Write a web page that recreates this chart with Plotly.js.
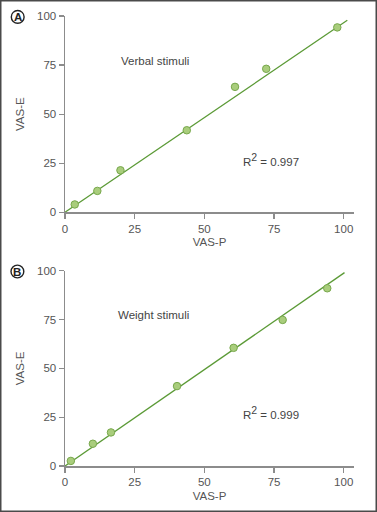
<!DOCTYPE html>
<html><head><meta charset="utf-8">
<script src="https://cdn.plot.ly/plotly-3.0.1.min.js"></script>
<style>html,body{margin:0;padding:0;background:#fff}#plot{width:377px;height:512px}</style>
</head><body><div id="plot"></div>
<script>
// Panel A: Verbal stimuli
const verbalP = [3.5, 11.6, 19.9, 43.7, 61.0, 72.2, 97.7];
const verbalE = [4.0, 10.9, 21.4, 41.8, 63.9, 73.1, 94.2];
const verbalFitX = [0, 101.3];
const verbalFitY = [0, 97.8];
// Panel B: Weight stimuli
const weightP = [2.1, 10.0, 16.5, 40.2, 60.5, 78.1, 94.1];
const weightE = [2.6, 11.4, 17.2, 40.9, 60.5, 74.8, 91.0];
const weightFitX = [0, 100.3];
const weightFitY = [0, 99.0];
const tickVals = [0, 25, 50, 75, 100];
const tickText = ['0', '25', '50', '75', '100'];

const lineCol = '#5b9a36';
const mk = {size: 7.5, color: '#a9cd7c', line: {color: '#78a84c', width: 1}};

const traces = [
  {x: verbalFitX, y: verbalFitY, mode: 'lines', line: {color: lineCol, width: 1.3}, xaxis: 'x', yaxis: 'y', hoverinfo: 'skip'},
  {x: verbalP, y: verbalE, mode: 'markers', marker: mk, xaxis: 'x', yaxis: 'y', cliponaxis: false},
  {x: weightFitX, y: weightFitY, mode: 'lines', line: {color: lineCol, width: 1.3}, xaxis: 'x2', yaxis: 'y2', hoverinfo: 'skip'},
  {x: weightP, y: weightE, mode: 'markers', marker: mk, xaxis: 'x2', yaxis: 'y2', cliponaxis: false}
];

const L = 65, R = 23, T = 16, B = 46, W = 377, H = 512;
const pw = W - L - R, ph = H - T - B;
const px = v => (v - L) / pw;
const py = v => (H - B - v) / ph;

const FAM = 'Liberation Sans, Arial, sans-serif';
const tf = {family: FAM, size: 11.5, color: '#555'};
const axBase = {
  showline: true, linecolor: '#8c8c8c', linewidth: 1.5, ticks: 'outside', ticklen: 5,
  tickcolor: '#8c8c8c', tickwidth: 1.2, showgrid: false, zeroline: false,
  tickvals: tickVals, ticktext: tickText, tickfont: tf, fixedrange: true
};
function xa(anchor) {
  return Object.assign({}, axBase, {range: [0, 103.7], anchor: anchor, domain: [0, 1],
    title: {text: 'VAS-P', font: tf, standoff: 4}});
}
function ya(anchor, dom) {
  return Object.assign({}, axBase, {range: [0, 100], anchor: anchor, domain: dom,
    title: {text: 'VAS-E', font: tf, standoff: 10}});
}

const annFont = {family: FAM, size: 11.5, color: '#444'};
const r2 = v => 'R<sup><span style="font-size:10.5px">2</span></sup> = ' + v;
const layout = {
  width: W, height: H, showlegend: false,
  margin: {l: L, r: R, t: T, b: B},
  paper_bgcolor: '#fff', plot_bgcolor: '#fff',
  xaxis: xa('y'), yaxis: ya('x', [py(212.3), 1]),
  xaxis2: xa('y2'), yaxis2: ya('x2', [0, py(270.7)]),
  annotations: [
    {text: 'Verbal stimuli', x: 19.2, y: 77.2, xref: 'x', yref: 'y', xanchor: 'left', yanchor: 'middle', showarrow: false, font: annFont},
    {text: r2('0.997'), x: 63, y: 27, xref: 'x', yref: 'y', xanchor: 'left', yanchor: 'middle', showarrow: false, font: annFont},
    {text: 'Weight stimuli', x: 18.4, y: 77.5, xref: 'x2', yref: 'y2', xanchor: 'left', yanchor: 'middle', showarrow: false, font: annFont},
    {text: r2('0.999'), x: 63, y: 27.4, xref: 'x2', yref: 'y2', xanchor: 'left', yanchor: 'middle', showarrow: false, font: annFont},
    {text: '<b>A</b>', x: px(17.7), y: py(16.9), xref: 'paper', yref: 'paper', xanchor: 'center', yanchor: 'middle', showarrow: false, font: {family: FAM, size: 11.5, color: '#222'}},
    {text: '<b>B</b>', x: px(17.4), y: py(271.5), xref: 'paper', yref: 'paper', xanchor: 'center', yanchor: 'middle', showarrow: false, font: {family: FAM, size: 11.5, color: '#222'}}
  ],
  shapes: [
    {type: 'rect', xref: 'paper', yref: 'paper', x0: px(0.75), x1: px(376.25), y0: py(511.25), y1: py(0.75), line: {color: '#4a4a4a', width: 1.5}},
    {type: 'circle', xref: 'paper', yref: 'paper', x0: px(11.3), x1: px(24.1), y0: py(23.3), y1: py(10.5), line: {color: '#222', width: 1.4}},
    {type: 'circle', xref: 'paper', yref: 'paper', x0: px(11.0), x1: px(23.8), y0: py(277.9), y1: py(265.1), line: {color: '#222', width: 1.4}}
  ]
};
Plotly.newPlot('plot', traces, layout, {displayModeBar: false, staticPlot: true});
</script></body></html>
